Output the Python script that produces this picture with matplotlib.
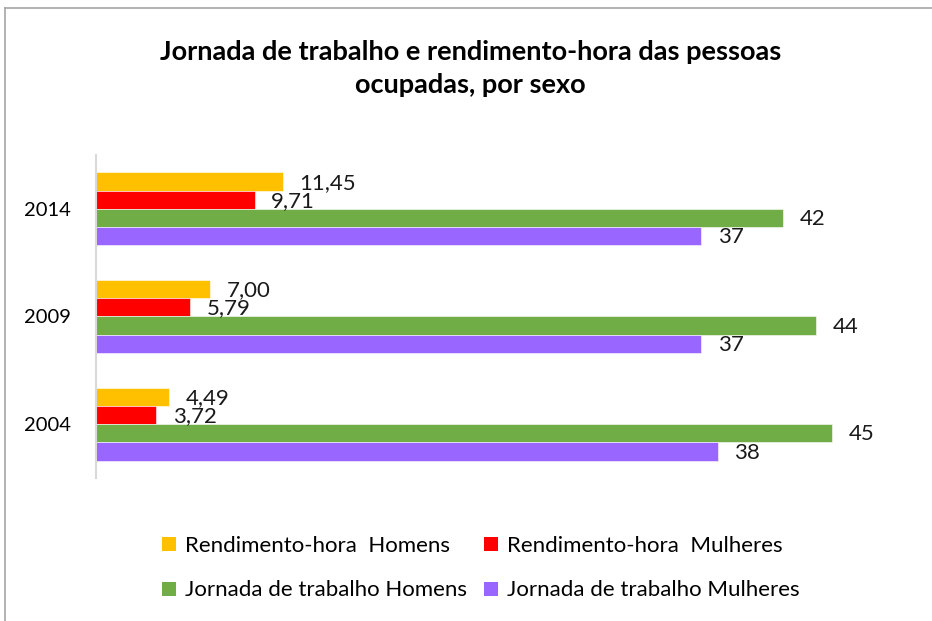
import matplotlib.pyplot as plt
from matplotlib.lines import Line2D
from matplotlib.patches import Patch
import numpy as np

plt.rcParams['font.family'] = ['Lato', 'DejaVu Sans']

anos = ['2004', '2009', '2014']
rend_homens = [4.49, 7.00, 11.45]
rend_mulheres = [3.72, 5.79, 9.71]
jorn_homens = [45, 44, 42]
jorn_mulheres = [38, 37, 37]

series = [
    ("Rendimento-hora  Homens", rend_homens, '#FFC000', True),
    ("Rendimento-hora  Mulheres", rend_mulheres, '#FF0000', True),
    ("Jornada de trabalho Homens", jorn_homens, '#70AD47', False),
    ("Jornada de trabalho Mulheres", jorn_mulheres, '#9966FF', False),
]

fig = plt.figure(figsize=(9.32, 6.21), dpi=100)
ax = fig.add_axes([0.1025, 0.2303, 0.8785, 0.5201])

y = np.arange(len(anos))
h = 0.169
offsets = [1.5 * h, 0.5 * h, -0.5 * h, -1.5 * h]
handles = []
for (nome, vals, cor, decimal), off in zip(series, offsets):
    bars = ax.barh(y + off, vals, height=h, color=cor, edgecolor='white', linewidth=0.4)
    for b, v in zip(bars, vals):
        txt = f"{v:.2f}".replace('.', ',') if decimal else f"{v:d}"
        ax.text(b.get_width() + 1.0, b.get_y() + h / 2 - 0.01, txt, va='center', ha='left',
                fontsize=16, color='#1a1a1a')
    handles.append(Patch(facecolor=cor, label=nome))

ax.set_xlim(0, 50)
ax.set_ylim(-0.5, 2.5)
ax.set_yticks(y)
ax.set_yticklabels(anos, fontsize=14.5)
ax.tick_params(axis='y', length=0, pad=18)
ax.set_xticks([])
for s in ['top', 'right', 'bottom']:
    ax.spines[s].set_visible(False)
ax.spines['left'].set_color('#d9d9d9')
ax.spines['left'].set_linewidth(1.5)

fig.text(0.505, 0.889, "Jornada de trabalho e rendimento-hora das pessoas\nocupadas, por sexo",
         ha='center', va='center', fontsize=19.5, fontweight='bold', linespacing=1.45)

ordem = [handles[0], handles[2], handles[1], handles[3]]
fig.legend(handles=ordem, ncol=2, loc='center', bbox_to_anchor=(0.516, 0.085),
           frameon=False, fontsize=16, handlelength=0.6, handleheight=0.6,
           handletextpad=0.4, columnspacing=0.8, labelspacing=1.1)

# moldura cinza do grafico
fig.add_artist(Line2D([0.0059, 0.0059], [0, 0.987], color='#a6a6a6', lw=1.2))
fig.add_artist(Line2D([0.0059, 1], [0.987, 0.987], color='#a6a6a6', lw=1.2))

fig.savefig('out.png', dpi=100)
